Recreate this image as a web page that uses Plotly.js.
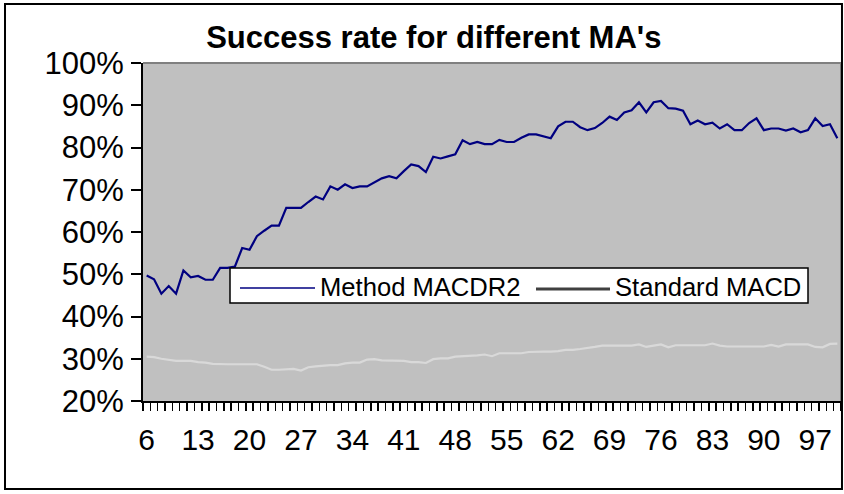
<!DOCTYPE html>
<html>
<head>
<meta charset="utf-8">
<script src="https://cdn.plot.ly/plotly-3.0.1.min.js"></script>
<style>html,body{margin:0;padding:0;background:#fff;}#chart{width:844px;height:494px;}</style>
</head>
<body>
<div id="chart"></div>
<script>
// MA lengths (x categories)
const maLengths = [6,7,8,9,10,11,12,13,14,15,16,17,18,19,20,21,22,23,24,25,26,27,28,29,30,31,32,33,34,35,36,37,38,39,40,41,42,43,44,45,46,47,48,49,50,51,52,53,54,55,56,57,58,59,60,61,62,63,64,65,66,67,68,69,70,71,72,73,74,75,76,77,78,79,80,81,82,83,84,85,86,87,88,89,90,91,92,93,94,95,96,97,98,99,100];

// Success rate (%) – Method MACDR2
const methodMACDR2 = [49.7,48.8,45.4,47.2,45.4,50.9,49.3,49.6,48.7,48.7,51.5,51.5,51.8,56.2,55.8,59.0,60.3,61.5,61.5,65.7,65.7,65.7,67.1,68.4,67.7,70.8,70.0,71.3,70.4,70.8,70.8,71.7,72.7,73.2,72.7,74.4,76.0,75.6,74.2,77.8,77.4,77.9,78.4,81.7,80.8,81.3,80.8,80.8,81.8,81.3,81.3,82.3,83.1,83.1,82.6,82.2,85.0,86.1,86.1,84.8,84.1,84.6,85.8,87.3,86.5,88.3,88.8,90.7,88.3,90.7,91.0,89.3,89.2,88.7,85.5,86.4,85.5,85.9,84.5,85.5,84.1,84.1,85.8,86.9,84.1,84.5,84.5,84.0,84.5,83.6,84.1,86.9,85.1,85.5,82.2];

// Success rate (%) – Standard MACD
const standardMACD = [30.5,30.4,30.0,29.7,29.5,29.5,29.5,29.2,29.1,28.8,28.7,28.7,28.7,28.7,28.7,28.7,28.1,27.4,27.4,27.5,27.6,27.2,28.0,28.2,28.4,28.5,28.5,28.9,29.1,29.1,29.8,29.9,29.6,29.6,29.6,29.5,29.2,29.2,29.0,29.9,30.1,30.1,30.5,30.6,30.6,30.8,31.0,30.6,31.3,31.3,31.3,31.3,31.6,31.7,31.7,31.7,31.8,32.1,32.1,32.3,32.5,32.8,33.1,33.1,33.1,33.1,33.1,33.4,32.8,33.1,33.4,32.7,33.2,33.2,33.2,33.2,33.2,33.6,33.1,32.9,32.9,32.9,32.9,32.9,32.9,33.3,32.9,33.4,33.4,33.4,33.4,32.8,32.7,33.5,33.6];

// Labelled categories
const tickLabels = ['6','13','20','27','34','41','48','55','62','69','76','83','90','97'];

// Legend entries
const seriesNames = ['Method MACDR2', 'Standard MACD'];

const FONT = 'Liberation Sans, Arial, sans-serif';

const traces = [
  {x: maLengths, y: methodMACDR2, type: 'scatter', mode: 'lines', name: seriesNames[0],
   line: {color: '#000080', width: 2.2}},
  {x: maLengths, y: standardMACD, type: 'scatter', mode: 'lines', name: seriesNames[1],
   line: {color: '#d9d9d9', width: 2.2}}
];

// pixel -> paper helpers for the legend box (plot area: x 143..841, y 63..401)
const px = v => (v - 143) / 698;
const py = v => (401 - v) / 338;

const layout = {
  width: 844, height: 494,
  margin: {l: 143, r: 3, t: 63, b: 93},
  paper_bgcolor: '#ffffff',
  plot_bgcolor: '#c0c0c0',
  font: {family: FONT, color: '#000', size: 26},
  showlegend: false,
  title: {text: "<b>Success rate for different MA's</b>", font: {family: FONT, size: 31, color: '#000'},
          xref: 'container', x: 0.514, xanchor: 'center', yref: 'container', y: 0.925, yanchor: 'middle'},
  xaxis: {
    type: 'linear', range: [5.5, 100.5],
    tickmode: 'array', tickvals: tickLabels.map(Number), ticktext: tickLabels,
    ticks: '', showgrid: false, zeroline: false,
    showline: true, linecolor: '#000', linewidth: 2,
    tickfont: {family: FONT, size: 30, color: '#000'},
    ticklabelstandoff: 11,
    minor: {ticks: 'outside', tickmode: 'linear', tick0: 5.5, dtick: 1, ticklen: 8, tickwidth: 1.5, tickcolor: '#000', showgrid: false}
  },
  yaxis: {
    range: [20, 100], dtick: 10, tick0: 20, ticksuffix: '%',
    ticks: 'outside', ticklen: 10, tickwidth: 2, tickcolor: '#000',
    showgrid: false, zeroline: false,
    showline: true, linecolor: '#000', linewidth: 2,
    tickfont: {family: FONT, size: 31, color: '#000'},
    ticklabelstandoff: 1
  },
  shapes: [
    {type: 'line', xref: 'paper', yref: 'paper', x0: 0, x1: 1, y0: 1, y1: 1, line: {color: '#808080', width: 2}},
    {type: 'line', xref: 'paper', yref: 'paper', x0: 1, x1: 1, y0: 0, y1: 1, line: {color: '#808080', width: 2}},
    {type: 'rect', xref: 'paper', yref: 'paper', x0: -0.1977, x1: 1.0014, y0: -0.26, y1: 1.1746, line: {color: '#000', width: 2}},
    // legend box
    {type: 'rect', xref: 'paper', yref: 'paper', x0: px(230), x1: px(808), y0: py(303), y1: py(268),
     fillcolor: '#ffffff', line: {color: '#000', width: 1.5}},
    {type: 'line', xref: 'paper', yref: 'paper', x0: px(240), x1: px(315), y0: py(288), y1: py(288),
     line: {color: '#000080', width: 1.5}},
    {type: 'line', xref: 'paper', yref: 'paper', x0: px(536), x1: px(610), y0: py(289), y1: py(289),
     line: {color: '#404040', width: 3}}
  ],
  annotations: [
    {xref: 'paper', yref: 'paper', x: px(318), y: py(287), xanchor: 'left', yanchor: 'middle', showarrow: false,
     text: seriesNames[0], font: {family: FONT, size: 25.6, color: '#000'}},
    {xref: 'paper', yref: 'paper', x: px(613), y: py(287), xanchor: 'left', yanchor: 'middle', showarrow: false,
     text: seriesNames[1], font: {family: FONT, size: 25.6, color: '#000'}}
  ]
};

Plotly.newPlot('chart', traces, layout, {staticPlot: true, displayModeBar: false});
</script>
</body>
</html>
